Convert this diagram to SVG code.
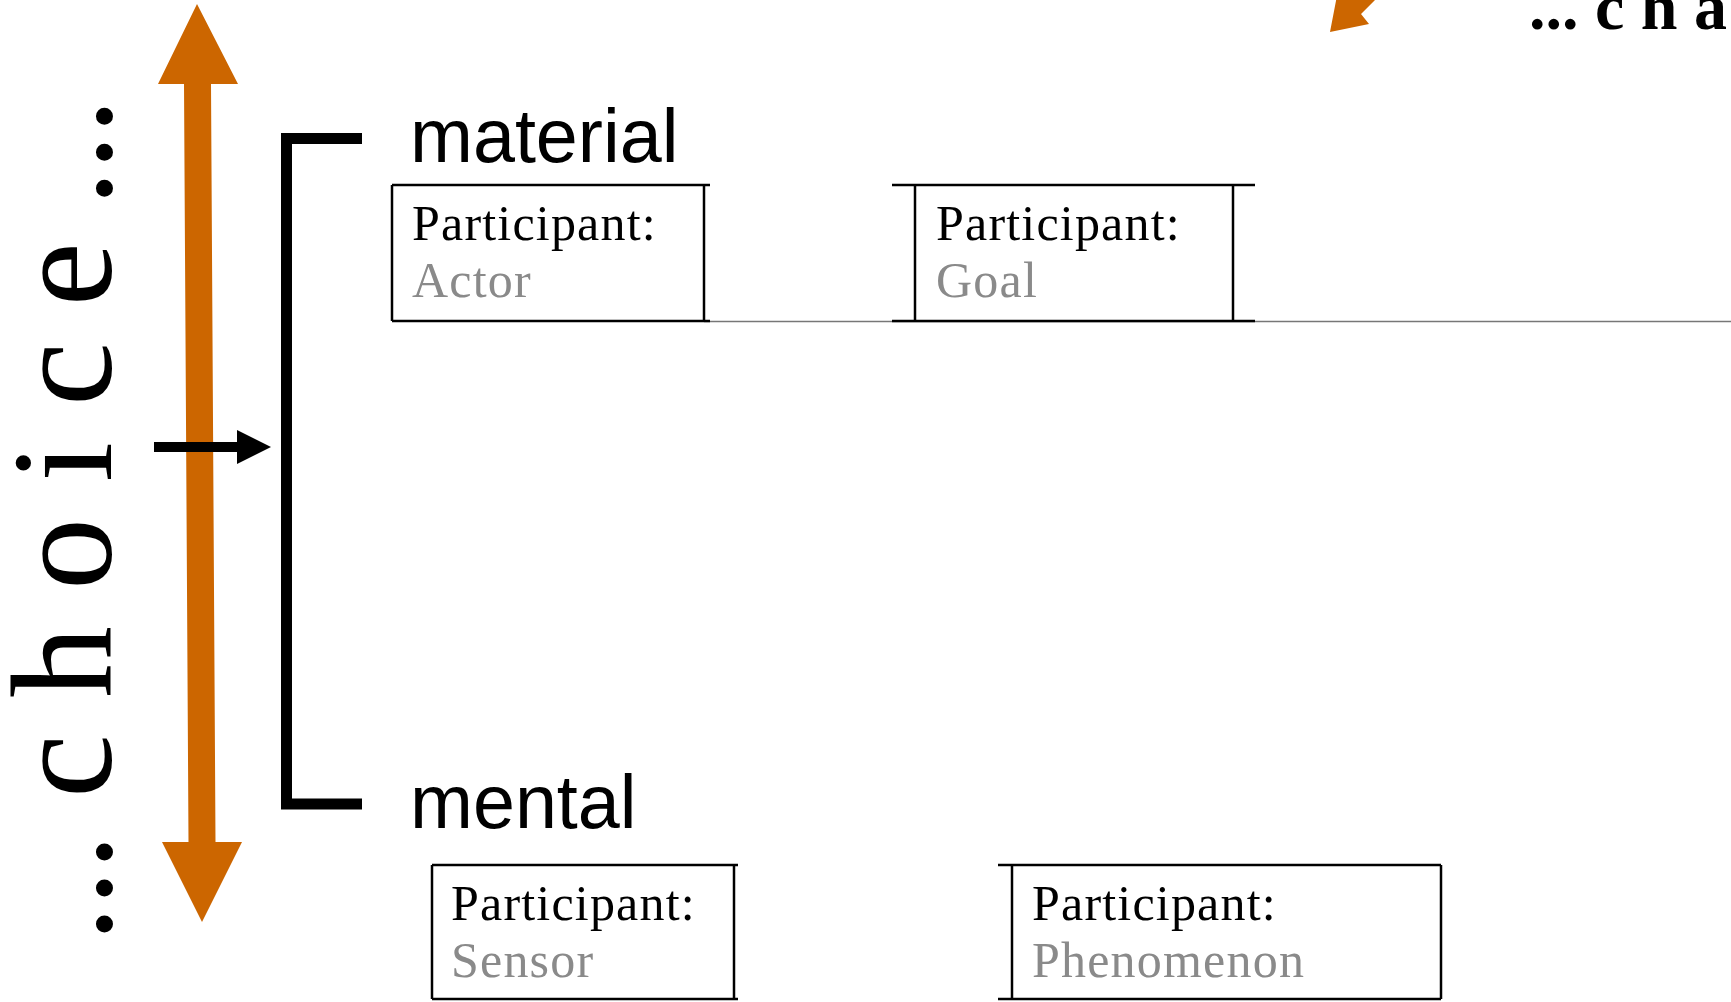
<svg xmlns="http://www.w3.org/2000/svg" width="1731" height="1002" viewBox="0 0 1731 1002">
<style>
.box{fill:none;stroke:#000;stroke-width:2.5}
.pt{font-family:"Liberation Serif","Times New Roman",serif;font-size:50px;letter-spacing:1.2px;fill:#000}
.role{font-family:"Liberation Serif","Times New Roman",serif;font-size:50px;letter-spacing:1.2px;fill:#8a8a8a}
.cat{font-family:"Liberation Sans",Arial,sans-serif;font-size:75.5px;fill:#000}
.orange{fill:#CC6600}
</style>
<rect width="1731" height="1002" fill="#fff"/>
<g id="connectors">
  <line x1="704" y1="321.5" x2="1731" y2="321.5" stroke="#777" stroke-width="1.5"/>
  <polygon class="orange" points="197,4 238,84 211,84 215.5,842 242,842 202,922 162,842 188.5,842 184,84 158,84"/>
  <polygon class="orange" points="1330,32 1369,24 1361,14 1395,-20 1380,-36 1348,-3 1337.5,-7"/>
  <path d="M362,138.5 H286.5 V804 H362" fill="none" stroke="#000" stroke-width="11"/>
  <line x1="154" y1="447" x2="240" y2="447" stroke="#000" stroke-width="10"/>
  <polygon points="237,430 271,447 237,464" fill="#000"/>
</g>
<g id="label-choice">
  <text transform="translate(111,942) rotate(-90)" font-family="'Liberation Serif','Times New Roman',serif" font-size="144" fill="#000">... c h o i c e ...</text>
</g>
<g id="label-change">
  <text x="1529" y="29" font-family="'Liberation Serif','Times New Roman',serif" font-size="66" font-weight="bold" fill="#000">... c h a</text>
</g>
<g id="label-material"><text class="cat" x="410" y="162">material</text></g>
<g id="label-mental"><text class="cat" x="410" y="828">mental</text></g>
<g id="box-actor">
  <line class="box" x1="392" y1="185" x2="710" y2="185"/>
  <line class="box" x1="392" y1="321" x2="710" y2="321"/>
  <line class="box" x1="392" y1="185" x2="392" y2="321"/>
  <line class="box" x1="704" y1="185" x2="704" y2="321"/>
  <text class="pt" x="412" y="240">Participant:</text>
  <text class="role" x="412" y="297">Actor</text>
</g>
<g id="box-goal">
  <line class="box" x1="892" y1="185" x2="1255" y2="185"/>
  <line class="box" x1="892" y1="321" x2="1255" y2="321"/>
  <line class="box" x1="915" y1="185" x2="915" y2="321"/>
  <line class="box" x1="1233" y1="185" x2="1233" y2="321"/>
  <text class="pt" x="936" y="240">Participant:</text>
  <text class="role" x="936" y="297">Goal</text>
</g>
<g id="box-sensor">
  <line class="box" x1="432" y1="865" x2="738" y2="865"/>
  <line class="box" x1="432" y1="999" x2="738" y2="999"/>
  <line class="box" x1="432" y1="865" x2="432" y2="999"/>
  <line class="box" x1="734" y1="865" x2="734" y2="999"/>
  <text class="pt" x="451" y="920">Participant:</text>
  <text class="role" x="451" y="977">Sensor</text>
</g>
<g id="box-phenomenon">
  <line class="box" x1="998" y1="865" x2="1441" y2="865"/>
  <line class="box" x1="998" y1="999" x2="1441" y2="999"/>
  <line class="box" x1="1012" y1="865" x2="1012" y2="999"/>
  <line class="box" x1="1441" y1="865" x2="1441" y2="999"/>
  <text class="pt" x="1032" y="920">Participant:</text>
  <text class="role" x="1032" y="977" letter-spacing="2.2">Phenomenon</text>
</g>
</svg>
